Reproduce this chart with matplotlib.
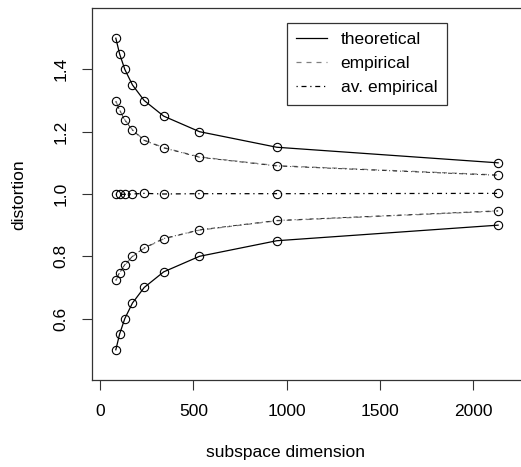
import matplotlib
matplotlib.use("Agg")
import matplotlib.pyplot as plt
from matplotlib.lines import Line2D

plt.rcParams['font.family'] = ['Liberation Sans', 'DejaVu Sans']

# subspace dimensions
dims = [85, 105, 133, 174, 237, 341, 533, 947, 2132]
# theoretical bounds
theo_upper = [1.50, 1.45, 1.40, 1.35, 1.30, 1.25, 1.20, 1.15, 1.10]
theo_lower = [0.50, 0.55, 0.60, 0.65, 0.70, 0.75, 0.80, 0.85, 0.90]
# empirical bounds
emp_upper = [1.298, 1.270, 1.238, 1.206, 1.173, 1.149, 1.119, 1.091, 1.061]
emp_lower = [0.722, 0.747, 0.772, 0.799, 0.826, 0.856, 0.884, 0.914, 0.945]
# average empirical
av_upper = [1.297, 1.269, 1.237, 1.205, 1.172, 1.148, 1.118, 1.090, 1.060]
av_lower = [0.723, 0.748, 0.773, 0.800, 0.827, 0.857, 0.885, 0.915, 0.946]
av_mean = [0.999, 0.999, 0.999, 1.000, 1.002, 1.000, 1.001, 1.001, 1.002]

xticks = [0, 500, 1000, 1500, 2000]
yticks = [0.6, 0.8, 1.0, 1.2, 1.4]

W, H = 521, 467
fig = plt.figure(figsize=(W / 100, H / 100), dpi=100)
left, right, top, bottom = 92.3, 525, 8.3, 380
ax = fig.add_axes([left / W, 1 - bottom / H, (right - left) / W, (bottom - top) / H])
ax.set_xlim(-41, 2276)
ax.set_ylim(0.403, 1.596)

lw = 0.9
ms = 6.0
circ = dict(marker='o', markersize=ms, markerfacecolor='none', markeredgecolor='black', markeredgewidth=0.8)

ax.plot(dims, theo_upper, color='black', lw=lw, ls='-', **circ)
ax.plot(dims, theo_lower, color='black', lw=lw, ls='-', **circ)
ax.plot(dims, emp_upper, color='#808080', lw=lw, ls=(0, (4, 4)))
ax.plot(dims, emp_lower, color='#808080', lw=lw, ls=(0, (4, 4)))
ax.plot(dims, av_upper, color='#333333', lw=lw * 0.8, ls=(0, (1, 3, 4, 3)), **circ)
ax.plot(dims, av_lower, color='#333333', lw=lw * 0.8, ls=(0, (1, 3, 4, 3)), **circ)
ax.plot(dims, av_mean, color='black', lw=lw, ls=(0, (1, 3, 4, 3)), **circ)

fs = 12.5
ax.set_xticks(xticks)
ax.set_xticklabels([str(t) for t in xticks], fontsize=fs)
ax.set_yticks(yticks)
ax.set_yticklabels([f"{t:.1f}" for t in yticks], fontsize=fs, rotation=90, va='center')
ax.tick_params(axis='both', length=7, width=0.8, color='#333333', pad=10)
for s in ax.spines.values():
    s.set_linewidth(0.9)
    s.set_color('#333333')

fig.text(286 / W, 1 - 453 / H, "subspace dimension", ha='center', va='center', fontsize=fs)
fig.text(19 / W, 1 - 195 / H, "distortion", ha='center', va='center', fontsize=fs, rotation=90)

handles = [
    Line2D([], [], color='black', lw=lw, ls='-'),
    Line2D([], [], color='#808080', lw=lw, ls=(0, (4, 4))),
    Line2D([], [], color='black', lw=lw, ls=(0, (1, 3, 4, 3))),
]
leg = ax.legend(handles, ["theoretical", "empirical", "av. empirical"],
                loc='upper left', bbox_to_anchor=(286.7 / W, 1 - 22.7 / H),
                bbox_transform=fig.transFigure, fontsize=fs,
                frameon=True, fancybox=False, edgecolor='black',
                handlelength=1.8, handletextpad=0.75, labelspacing=0.5,
                borderpad=0.55, borderaxespad=0)
leg.get_frame().set_linewidth(0.9)

fig.savefig("out.png", dpi=100)
